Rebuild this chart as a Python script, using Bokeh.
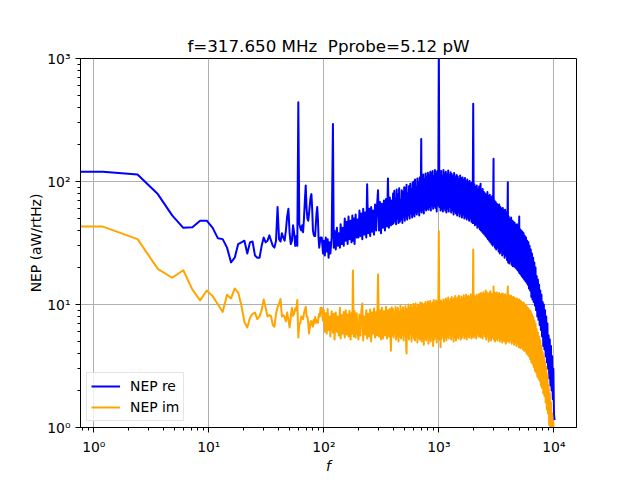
from bokeh.plotting import figure
from bokeh.models import Range1d, FixedTicker, CustomJSTickFormatter, Legend, LegendItem
from bokeh.embed import file_html
from bokeh.resources import INLINE

# ---------------- data ----------------
title_text = "f=317.650 MHz \u00a0Pprobe=5.12 pW"
series_names = ["NEP re", "NEP im"]
x_label = "f"
y_label = "NEP (aW/rtHz)"
x_ticks = [1, 10, 100, 1000, 10000]
y_ticks = [1, 10, 100, 1000]

# low-frequency bins (Hz)
freq_lo = [0.5, 1.2, 2.4, 3.6, 4.8, 6.0, 7.2, 8.4, 9.6, 10.8,
           12.0, 13.2, 14.4, 15.6, 16.8, 18.0, 19.2, 20.4, 21.6, 22.8,
           24.0, 25.2, 26.4, 27.6, 28.8, 30.0, 31.2, 32.4, 33.6, 34.8,
           36.0, 37.2, 38.4, 39.6, 40.8, 42.0, 43.2, 44.4, 45.6, 46.8,
           48.0, 49.2, 50.4, 51.6, 52.8, 54.0, 55.2, 56.4, 57.6, 58.8,
           60.0, 61.2, 62.4, 63.6, 64.8, 66.0, 67.2, 68.4, 69.6, 70.8,
           72.0, 73.2, 74.4, 75.6, 76.8, 78.0, 79.2, 80.4, 81.6, 82.8,
           84.0, 85.2, 86.4, 87.6, 88.8, 90.0, 91.2, 92.4, 93.6, 94.8,
           96.0, 97.2, 98.4]
nep_re_lo = [120, 120, 114, 79, 53, 42, 42.5, 48, 48, 42,
             34.5, 34, 29, 22, 24, 31, 32, 33, 26, 32,
             32.5, 25, 24, 24, 30, 35, 32, 33, 36.5, 33,
             30, 29, 33, 62, 34, 32.5, 38, 35, 33, 40,
             52, 60, 38, 31, 33, 44, 38, 30, 36, 30,
             441, 45, 42, 40, 44, 38.7, 50, 70, 93, 60,
             50, 48, 55, 65, 75, 79, 60, 40, 37, 36,
             36, 45, 55, 62, 50, 35, 29, 32, 35, 33,
             35, 30, 26]
nep_im_lo = [43, 43, 34, 19.5, 16.5, 19, 13.2, 10.8, 13, 11.7,
             10, 8.7, 12, 11.2, 13.5, 12.5, 9.8, 7.2, 6.5, 7.8,
             8.4, 8.6, 7.6, 8.0, 9.0, 11, 9.4, 8.0, 8.2, 8.0,
             6.8, 6.6, 8.4, 9.5, 10.1, 11.1, 8.0, 8.2, 7.9, 7.3,
             8.6, 7.5, 6.5, 8.0, 9.4, 8.1, 8.5, 9.3, 9.0, 10.9,
             5.4, 7.0, 7.0, 8.0, 7.8, 7.6, 8.5, 9.0, 9.6, 8.0,
             8.0, 7.0, 5.8, 6.5, 7.3, 7.3, 6.8, 6.6, 7.5, 7.0,
             7.9, 7.5, 7.1, 7.4, 7.1, 8.0, 8.4, 8.0, 9.4, 8.5,
             9.4, 8.0, 7.4]

# 100 - 200 Hz
freq_a = [100, 102, 104, 106, 108, 110, 112, 114, 117, 120,
          122, 124, 127, 130, 132, 135, 138, 140, 143, 146,
          149, 152, 155, 158, 161, 164, 167, 171, 174, 177,
          179, 182, 185, 189, 193, 197]
nep_re_a = [33, 25, 35, 27, 34, 24, 32, 26, 35, 294,
            29, 40, 28, 42, 30, 38, 29, 45, 31, 42,
            30, 50, 33, 47, 31, 52, 34, 48, 32, 53,
            33, 50, 31, 54, 35, 49]
nep_im_a = [9.0, 6.0, 8.5, 5.8, 9.2, 6.2, 8.0, 5.5, 8.8, 5.9,
            8.4, 5.2, 8.6, 6.0, 8.0, 5.6, 9.4, 5.3, 8.2, 5.8,
            8.7, 5.4, 9.0, 5.7, 8.3, 5.5, 8.9, 5.2, 8.5, 5.8,
            18.9, 5.5, 8.8, 5.4, 8.5, 5.9]

# 200 - 400 Hz
freq_b = [200, 204, 208, 212, 216, 220, 225, 229, 234, 238,
          243, 248, 253, 258, 263, 268, 273, 279, 285, 290,
          296, 302, 308, 314, 320, 327, 333, 340, 347, 354,
          361, 368, 375, 383, 390, 396]
nep_re_b = [35, 58, 36, 55, 34, 60, 37, 56, 35, 95,
            38, 60, 36, 62, 39, 58, 37, 65, 40, 63,
            85, 40, 68, 38, 66, 42, 70, 40, 72, 43,
            106, 42, 74, 44, 70, 45]
nep_im_b = [5.2, 8.3, 5.6, 8.9, 10.2, 5.1, 8.0, 5.7, 9.0, 5.3,
            8.4, 5.5, 9.1, 5.0, 8.6, 5.8, 9.3, 5.4, 8.7, 5.6,
            17.5, 5.5, 9.0, 5.2, 9.4, 5.3, 8.8, 5.6, 9.6, 5.3,
            9.0, 5.5, 9.2, 4.2, 9.5, 5.6]

# 400 - 1000 Hz
freq_c = [400, 405, 410, 415, 420, 425, 430, 435, 440, 446,
          452, 458, 464, 470, 476, 482, 488, 494, 500,
          506, 512, 518, 524, 530, 537, 544, 551, 558, 565,
          572, 579, 586, 593, 600,
          607, 614, 621, 628, 635, 643, 651, 659, 667, 675,
          683, 691, 698, 703,
          708, 716, 724, 732, 740, 749, 758, 767, 776, 785,
          794, 803,
          812, 822, 832, 842, 852, 862, 872, 882, 892, 903,
          914, 925, 936, 947, 958, 969, 980, 990, 1000]
nep_re_c = [80, 46, 84, 48, 72, 45, 86, 50, 78, 46,
            88, 47, 70, 49, 85, 46, 82, 51, 90,
            48, 88, 52, 94, 49, 80, 53, 92, 50, 96,
            55, 86, 51, 98, 54,
            100, 52, 104, 56, 90, 54, 106, 57, 98, 53,
            108, 58, 102, 222,
            56, 110, 59, 114, 55, 104, 60, 116, 58, 108,
            61, 118,
            59, 112, 62, 120, 58, 116, 64, 122, 60, 110,
            63, 124, 61, 118, 57, 121, 64, 115, 1300]
nep_im_c = [9.2, 5.4, 8.6, 5.8, 9.6, 5.2, 8.9, 5.6, 9.4, 5.0,
            8.7, 5.5, 9.8, 5.3, 9.0, 5.7, 9.5, 5.1, 8.8,
            5.6, 9.7, 5.3, 4.0, 9.2, 5.5, 10.0, 5.2, 9.4, 5.8,
            9.9, 5.0, 9.3, 5.6, 10.1,
            5.3, 9.6, 5.1, 10.2, 5.5, 9.4, 4.9, 10.0, 5.4, 9.7,
            5.2, 10.4, 5.6, 9.8,
            5.0, 10.3, 5.4, 9.6, 4.7, 10.1, 5.3, 10.5, 5.1, 9.9,
            5.5, 10.6,
            4.8, 10.2, 5.3, 10.7, 5.0, 9.8, 5.4, 10.4, 4.6, 10.9,
            5.2, 10.3, 5.5, 10.8, 4.9, 10.5, 5.3, 10.1, 39.4]

# 1000 - 2000 Hz
freq_d = [1011, 1023, 1035, 1047, 1059, 1071, 1084, 1097, 1110, 1123,
          1136, 1150, 1164, 1178, 1192, 1206, 1220, 1235, 1250, 1265,
          1280, 1295, 1311, 1327, 1343, 1359, 1375, 1392, 1409, 1426,
          1443, 1460, 1478, 1496, 1514, 1532, 1550, 1569, 1588, 1607,
          1626, 1646, 1666, 1686, 1706, 1726, 1747, 1768, 1789, 1810,
          1832, 1854, 1876, 1898, 1921, 1944, 1967, 1990]
nep_re_d = [62, 118, 58, 122, 60, 110, 57, 124, 61, 116,
            58, 120, 56, 114, 60, 123, 57, 112, 62, 119,
            56, 115, 58, 110, 54, 117, 57, 108, 55, 113,
            53, 110, 56, 104, 52, 112, 55, 106, 51, 108,
            54, 103, 50, 107, 52, 100, 49, 104, 51, 99,
            48, 101, 50, 96, 47, 98, 46, 428]
nep_im_d = [5.2, 10.5, 4.5, 10.8, 5.3, 10.2, 5.6, 11.0, 5.0, 10.6,
            5.4, 11.2, 5.1, 10.8, 5.5, 11.4, 5.3, 10.4, 5.7, 11.1,
            5.2, 11.5, 5.6, 10.9, 5.0, 11.3, 5.4, 11.7, 5.1, 11.0,
            5.5, 11.4, 5.3, 11.8, 5.6, 10.9, 5.2, 11.6, 5.4, 11.2,
            5.7, 11.9, 5.3, 11.3, 5.5, 12.0, 5.2, 11.5, 5.6, 11.8,
            5.4, 11.4, 5.7, 12.1, 5.3, 11.6, 5.5, 28]

# 2000 - 4000 Hz
freq_e = [2013, 2037, 2061, 2086, 2111, 2136, 2162, 2188, 2214, 2240,
          2267, 2294, 2306, 2321, 2349, 2377, 2405, 2434, 2463, 2492,
          2522, 2552, 2583, 2614, 2645, 2677, 2709, 2741, 2774, 2807,
          2841, 2875, 2909, 2944, 2970, 2990, 3008, 3044, 3081, 3118,
          3155, 3193, 3231, 3270, 3309, 3349, 3389, 3429, 3470, 3512,
          3554, 3597, 3640, 3684, 3728, 3773, 3818, 3864, 3910, 3956, 3980]
nep_re_e = [46, 95, 44, 90, 45, 93, 42, 86, 43, 91,
            41, 88, 96, 40, 84, 39, 87, 38, 82, 37,
            80, 36, 78, 35, 82, 34, 76, 33, 78, 32,
            74, 31, 76, 30, 72, 153, 31, 70, 29, 68,
            28, 66, 29, 64, 27, 65, 26, 62, 27, 60,
            25, 61, 26, 58, 24, 59, 25, 56, 23, 54, 98.5]
nep_im_e = [5.4, 11.8, 5.6, 11.4, 5.3, 12.0, 5.8, 11.6, 5.5, 12.2,
            5.9, 11.8, 5.4, 12.4, 5.6, 12.0, 5.3, 12.6, 5.8, 12.2,
            5.5, 13.0, 5.2, 12.6, 5.6, 12.0, 5.0, 12.4, 5.3, 12.8,
            5.1, 12.2, 5.4, 11.9, 5.6, 14.0, 5.2, 12.6, 5.0, 12.3,
            5.3, 12.5, 5.1, 12.0, 5.4, 12.4, 5.0, 11.9, 5.2, 12.2,
            4.9, 12.3, 5.1, 11.8, 5.0, 12.1, 4.8, 11.7, 5.0, 12.0, 14.0]

# 4000 - 10150 Hz
freq_f = [4005, 4053, 4102, 4151, 4201, 4251, 4302, 4354, 4406, 4459,
          4512, 4566, 4621, 4676, 4732, 4789, 4846, 4904, 4962, 5000,
          5022, 5082, 5143, 5205, 5267, 5330, 5394, 5459, 5525, 5591,
          5658, 5726, 5795, 5864, 5934, 6005, 6077, 6150, 6224, 6299,
          6375, 6451, 6528, 6606, 6685, 6765, 6846, 6928, 7011, 7095,
          7180, 7266, 7353, 7441, 7530, 7620, 7711, 7804, 7898, 7993,
          8089, 8186, 8284, 8383, 8484, 8586, 8689, 8793, 8898, 9005,
          9113, 9222, 9333, 9445, 9558, 9673, 9789, 9906, 10025, 10150]
nep_re_f = [22, 52, 21.5, 49, 22.5, 51, 21, 48, 20.5, 47,
            20.5, 46, 20, 44, 19.5, 45, 19, 43, 18.5, 52,
            18, 41, 17.5, 40, 17, 39, 16.5, 38, 16, 36,
            15.5, 35, 15, 33, 14.5, 32, 13.5, 30, 13, 28,
            11.5, 26, 11, 24, 10.5, 22, 9.8, 20, 9.0, 17,
            8.0, 16, 7.5, 14.5, 6.8, 13, 6.2, 12, 5.5, 10.5,
            4.6, 10, 4.3, 9.0, 3.8, 8.0, 3.4, 7.0, 3.0, 5.6,
            2.5, 5.2, 2.2, 4.6, 2.0, 3.8, 1.7, 3.0, 1.3, 1.15]
nep_im_f = [5.1, 12.0, 4.9, 11.6, 5.2, 11.8, 4.8, 11.4, 5.0, 11.5,
            4.7, 11.3, 4.9, 11.0, 4.6, 11.2, 4.8, 10.9, 4.5, 11.0,
            4.6, 10.8, 4.4, 10.6, 4.5, 10.3, 4.3, 10.4, 4.2, 10.0,
            4.2, 9.8, 4.0, 9.5, 3.9, 9.3, 3.8, 9.0, 3.6, 8.8,
            3.4, 8.3, 3.3, 7.9, 3.1, 7.4, 2.9, 7.0, 2.8, 6.3,
            2.6, 5.9, 2.5, 5.5, 2.4, 5.1, 2.2, 4.6, 2.1, 4.1,
            1.9, 3.8, 1.8, 3.4, 1.6, 3.1, 1.4, 2.7, 1.3, 2.2,
            1.05, 1.9, 0.95, 1.6, 0.85, 1.3, 0.75, 1.1, 0.65, 0.6]

freq = freq_lo + freq_a + freq_b + freq_c + freq_d + freq_e + freq_f
nep_re = nep_re_lo + nep_re_a + nep_re_b + nep_re_c + nep_re_d + nep_re_e + nep_re_f
nep_im = nep_im_lo + nep_im_a + nep_im_b + nep_im_c + nep_im_d + nep_im_e + nep_im_f
assert len(freq) == len(nep_re) == len(nep_im), (len(freq), len(nep_re), len(nep_im))

x_minor = [m * 10.0 ** e for e in range(-1, 5) for m in range(2, 10)]
y_minor = [m * 10.0 ** e for e in range(0, 3) for m in range(2, 10)]

FONT = "DejaVu Sans"

# ---------------- figure ----------------
p = figure(width=640, height=480, x_axis_type="log", y_axis_type="log",
           x_range=Range1d(0.766, 15740), y_range=Range1d(1, 1000),
           output_backend="svg", toolbar_location=None,
           min_border_left=80, min_border_right=64,
           min_border_top=58, min_border_bottom=53)
p.background_fill_color = "white"
p.border_fill_color = "white"
p.outline_line_color = "black"
p.outline_line_width = 1
p.outline_line_alpha = 1

p.title.text = title_text
p.title.align = "center"
p.title.text_font = FONT
p.title.text_font_size = "16.7px"
p.title.text_font_style = "normal"
p.title.text_color = "black"
p.title.standoff = 6

sup_code = """
const sup = {'0':'\u2070','1':'\u00b9','2':'\u00b2','3':'\u00b3','4':'\u2074','5':'\u2075','-':'\u207b'};
const e = Math.round(Math.log10(tick));
return '10' + String(e).split('').map(c => sup[c]).join('');
"""

for ax, ticks, minor in ((p.xaxis, x_ticks, x_minor), (p.yaxis, y_ticks, y_minor)):
    ax.ticker = FixedTicker(ticks=ticks, minor_ticks=minor)
    ax.formatter = CustomJSTickFormatter(code=sup_code)
    ax.major_label_text_font = FONT
    ax.major_label_text_font_size = "13.9px"
    ax.major_label_text_color = "black"
    ax.axis_label_text_font = FONT
    ax.axis_label_text_font_size = "13.9px"
    ax.axis_label_text_color = "black"
    ax.axis_line_color = "black"
    ax.major_tick_line_color = "black"
    ax.minor_tick_line_color = "black"
    ax.major_tick_in = 0
    ax.major_tick_out = 5
    ax.minor_tick_in = 0
    ax.minor_tick_out = 3

p.xaxis.major_label_standoff = 6
p.yaxis.major_label_standoff = 5
p.xaxis.axis_label = x_label
p.xaxis.axis_label_text_font_style = "italic"
p.xaxis.axis_label_standoff = 0
p.yaxis.axis_label = y_label
p.yaxis.axis_label_text_font_style = "normal"
p.yaxis.axis_label_standoff = 0

p.xgrid.ticker = FixedTicker(ticks=x_ticks)
p.ygrid.ticker = FixedTicker(ticks=y_ticks)
for g in (p.xgrid, p.ygrid):
    g.grid_line_color = "#b0b0b0"
    g.grid_line_width = 1

r_re = p.line(freq, nep_re, line_color="blue", line_width=2, line_join="round")
r_im = p.line(freq, nep_im, line_color="orange", line_width=2, line_join="round")

legend = Legend(items=[LegendItem(label=series_names[0], renderers=[r_re]),
                       LegendItem(label=series_names[1], renderers=[r_im])],
                location="bottom_left")
legend.margin = 6
legend.padding = 4
legend.spacing = 3
legend.glyph_width = 29
legend.glyph_height = 18
legend.label_height = 18
legend.label_standoff = 10
legend.label_text_font = FONT
legend.label_text_font_size = "13.9px"
legend.label_text_color = "black"
legend.border_line_color = "#cccccc"
legend.border_line_width = 1
legend.background_fill_color = "white"
legend.background_fill_alpha = 0.8
p.add_layout(legend)

open("out.html", "w").write(file_html(p, INLINE))
